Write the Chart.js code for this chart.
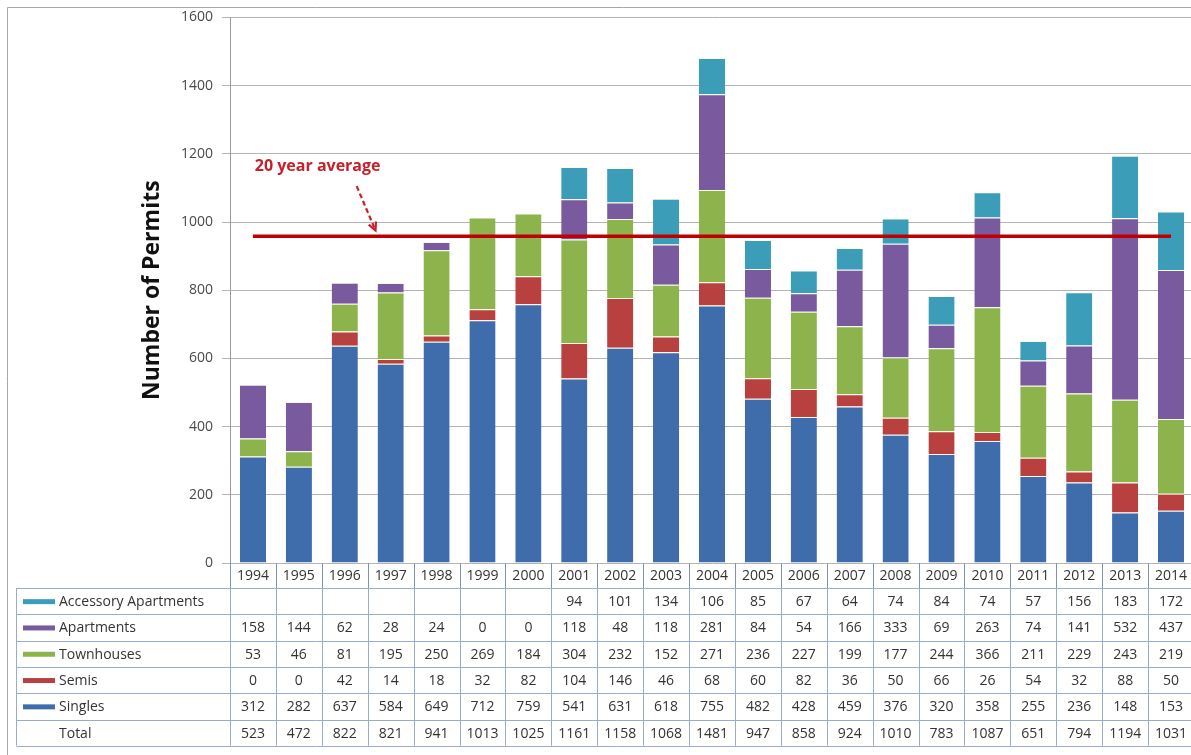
<!DOCTYPE html>
<html>
<head>
<meta charset="utf-8">
<title>Number of Permits 1994-2014</title>
<script src="https://cdn.jsdelivr.net/npm/chart.js@4.4.1/dist/chart.umd.min.js"></script>
<style>
  html, body { margin: 0; padding: 0; background: #fff; overflow: hidden; }
  #wrap { position: relative; width: 1191px; height: 755px; overflow: hidden; }
  #chart { position: absolute; left: 0; top: 0; }
</style>
</head>
<body>
<div id="wrap"><canvas id="chart" width="1240" height="755"></canvas></div>
<script>
const years = ['1994', '1995', '1996', '1997', '1998', '1999', '2000', '2001', '2002', '2003', '2004',
  '2005', '2006', '2007', '2008', '2009', '2010', '2011', '2012', '2013', '2014'];

const accessory = [null, null, null, null, null, null, null, 94, 101, 134, 106, 85, 67, 64, 74, 84, 74, 57, 156, 183, 172];
const apartments = [158, 144, 62, 28, 24, 0, 0, 118, 48, 118, 281, 84, 54, 166, 333, 69, 263, 74, 141, 532, 437];
const townhouses = [53, 46, 81, 195, 250, 269, 184, 304, 232, 152, 271, 236, 227, 199, 177, 244, 366, 211, 229, 243, 219];
const semis = [0, 0, 42, 14, 18, 32, 82, 104, 146, 46, 68, 60, 82, 36, 50, 66, 26, 54, 32, 88, 50];
const singles = [312, 282, 637, 584, 649, 712, 759, 541, 631, 618, 755, 482, 428, 459, 376, 320, 358, 255, 236, 148, 153];
const totals = [523, 472, 822, 821, 941, 1013, 1025, 1161, 1158, 1068, 1481, 947, 858, 924, 1010, 783, 1087, 651, 794, 1194, 1031];

const average = 958;
const averageLabel = '20 year average';
const yMax = 1600;
const yStep = 200;

const colors = {
  singles: '#3f6dab',
  semis: '#b8403e',
  townhouses: '#8db34c',
  apartments: '#7a5a9e',
  accessory: '#3b9db8'
};

const FONT = '"Open Sans", "DejaVu Sans", sans-serif';

// rows of the data table under the plot, top to bottom
const tableRows = [
  { label: 'Accessory Apartments', values: accessory, color: colors.accessory },
  { label: 'Apartments', values: apartments, color: colors.apartments },
  { label: 'Townhouses', values: townhouses, color: colors.townhouses },
  { label: 'Semis', values: semis, color: colors.semis },
  { label: 'Singles', values: singles, color: colors.singles },
  { label: 'Total', values: totals, color: null }
];

function barSet(label, data, color) {
  return {
    type: 'bar',
    label: label,
    data: data,
    backgroundColor: color,
    borderColor: 'rgba(250, 250, 225, 0.95)',
    borderWidth: { top: 1, left: 0, right: 0, bottom: 0 },
    borderSkipped: 'start',
    stack: 'permits',
    order: 1
  };
}

const tablePlugin = {
  id: 'dataTable',
  beforeDraw(chart) {
    const ctx = chart.ctx;
    ctx.save();
    ctx.strokeStyle = '#a8a8a8';
    ctx.lineWidth = 1;
    ctx.beginPath();
    ctx.moveTo(7.5, chart.height);
    ctx.lineTo(7.5, 7.5);
    ctx.lineTo(chart.width, 7.5);
    ctx.stroke();
    ctx.restore();
  },
  afterDraw(chart) {
    const ctx = chart.ctx;
    const x = chart.scales.x;
    const y = chart.scales.y;
    const n = years.length;
    const half = (x.right - x.left) / n / 2;
    const headTop = y.bottom;
    const bodyTop = 588;
    const rowH = 26.3;
    const tableLeft = 16.5;
    const bodyBottom = bodyTop + rowH * tableRows.length;

    ctx.save();

    // header row with years
    ctx.strokeStyle = '#8193b3';
    ctx.lineWidth = 1;
    ctx.beginPath();
    for (let i = 0; i <= n; i++) {
      const bx = Math.round(x.getPixelForValue(0) - half + i * half * 2) + 0.5;
      ctx.moveTo(bx, headTop);
      ctx.lineTo(bx, bodyTop);
    }
    ctx.stroke();

    ctx.fillStyle = '#333';
    ctx.font = '14px ' + FONT;
    ctx.textAlign = 'center';
    ctx.textBaseline = 'middle';
    years.forEach((yr, i) => {
      ctx.fillText(yr, x.getPixelForValue(i), (headTop + bodyTop) / 2 + 1);
    });

    // grid of the table body
    ctx.strokeStyle = '#9aaccb';
    ctx.beginPath();
    for (let k = 0; k <= tableRows.length; k++) {
      const ly = Math.round(bodyTop + k * rowH) + 0.5;
      ctx.moveTo(tableLeft, ly);
      ctx.lineTo(x.right + half, ly);
    }
    ctx.moveTo(tableLeft, bodyTop);
    ctx.lineTo(tableLeft, bodyBottom);
    for (let i = 0; i <= n; i++) {
      const bx = Math.round(x.getPixelForValue(0) - half + i * half * 2) + 0.5;
      ctx.moveTo(bx, bodyTop);
      ctx.lineTo(bx, bodyBottom);
    }
    ctx.stroke();

    tableRows.forEach((row, k) => {
      const cy = bodyTop + (k + 0.5) * rowH + 1;
      if (row.color) {
        ctx.fillStyle = row.color;
        ctx.fillRect(23, cy - 3, 32, 5);
      }
      ctx.fillStyle = '#333';
      ctx.textAlign = 'left';
      ctx.fillText(row.label, 59, cy);
      ctx.textAlign = 'center';
      row.values.forEach((v, i) => {
        if (v !== null) ctx.fillText(String(v), x.getPixelForValue(i), cy);
      });
    });

    // "20 year average" note with dashed arrow
    const red = '#c8202a';
    ctx.fillStyle = red;
    ctx.font = 'bold 16px ' + FONT;
    ctx.textAlign = 'left';
    ctx.fillText(averageLabel, x.getPixelForValue(0.04), y.getPixelForValue(1162));

    const ax0 = x.getPixelForValue(2.26), ay0 = y.getPixelForValue(1105);
    const ax1 = x.getPixelForValue(2.67), ay1 = y.getPixelForValue(975);
    ctx.strokeStyle = red;
    ctx.lineWidth = 2.2;
    ctx.setLineDash([5, 3]);
    ctx.beginPath();
    ctx.moveTo(ax0, ay0);
    ctx.lineTo(ax1, ay1);
    ctx.stroke();
    ctx.setLineDash([]);
    const ang = Math.atan2(ay1 - ay0, ax1 - ax0);
    ctx.beginPath();
    ctx.moveTo(ax1 - 9 * Math.cos(ang - 0.45), ay1 - 9 * Math.sin(ang - 0.45));
    ctx.lineTo(ax1, ay1);
    ctx.lineTo(ax1 - 9 * Math.cos(ang + 0.45), ay1 - 9 * Math.sin(ang + 0.45));
    ctx.stroke();

    ctx.restore();
  }
};

new Chart(document.getElementById('chart'), {
  data: {
    labels: years,
    datasets: [
      {
        type: 'line',
        label: averageLabel,
        data: years.map(() => average),
        borderColor: '#c00000',
        borderWidth: 3.5,
        pointRadius: 0,
        stack: 'avg',
        order: 0
      },
      barSet('Singles', singles, colors.singles),
      barSet('Semis', semis, colors.semis),
      barSet('Townhouses', townhouses, colors.townhouses),
      barSet('Apartments', apartments, colors.apartments),
      barSet('Accessory Apartments', accessory, colors.accessory)
    ]
  },
  options: {
    responsive: false,
    devicePixelRatio: 1,
    animation: false,
    layout: { padding: { left: 0, right: 46, top: 14, bottom: 192 } },
    datasets: {
      bar: { categoryPercentage: 1, barPercentage: 0.57 }
    },
    plugins: {
      legend: { display: false },
      tooltip: { enabled: false }
    },
    scales: {
      x: {
        display: false,
        stacked: true
      },
      y: {
        stacked: true,
        min: 0,
        max: yMax,
        ticks: {
          stepSize: yStep,
          color: '#4a4a4a',
          padding: 9,
          font: { family: FONT, size: 14 },
          callback: (v) => String(v)
        },
        grid: { color: '#b4b4b4', tickLength: 8, lineWidth: 1 },
        border: { color: '#9a9a9a' },
        title: {
          display: true,
          text: 'Number of Permits',
          color: '#111',
          font: { family: FONT, size: 23, weight: 'bold' },
          padding: { top: 139, bottom: 0 }
        },
        afterFit(scale) { scale.width = 230; }
      }
    }
  },
  plugins: [tablePlugin]
});
</script>
</body>
</html>
